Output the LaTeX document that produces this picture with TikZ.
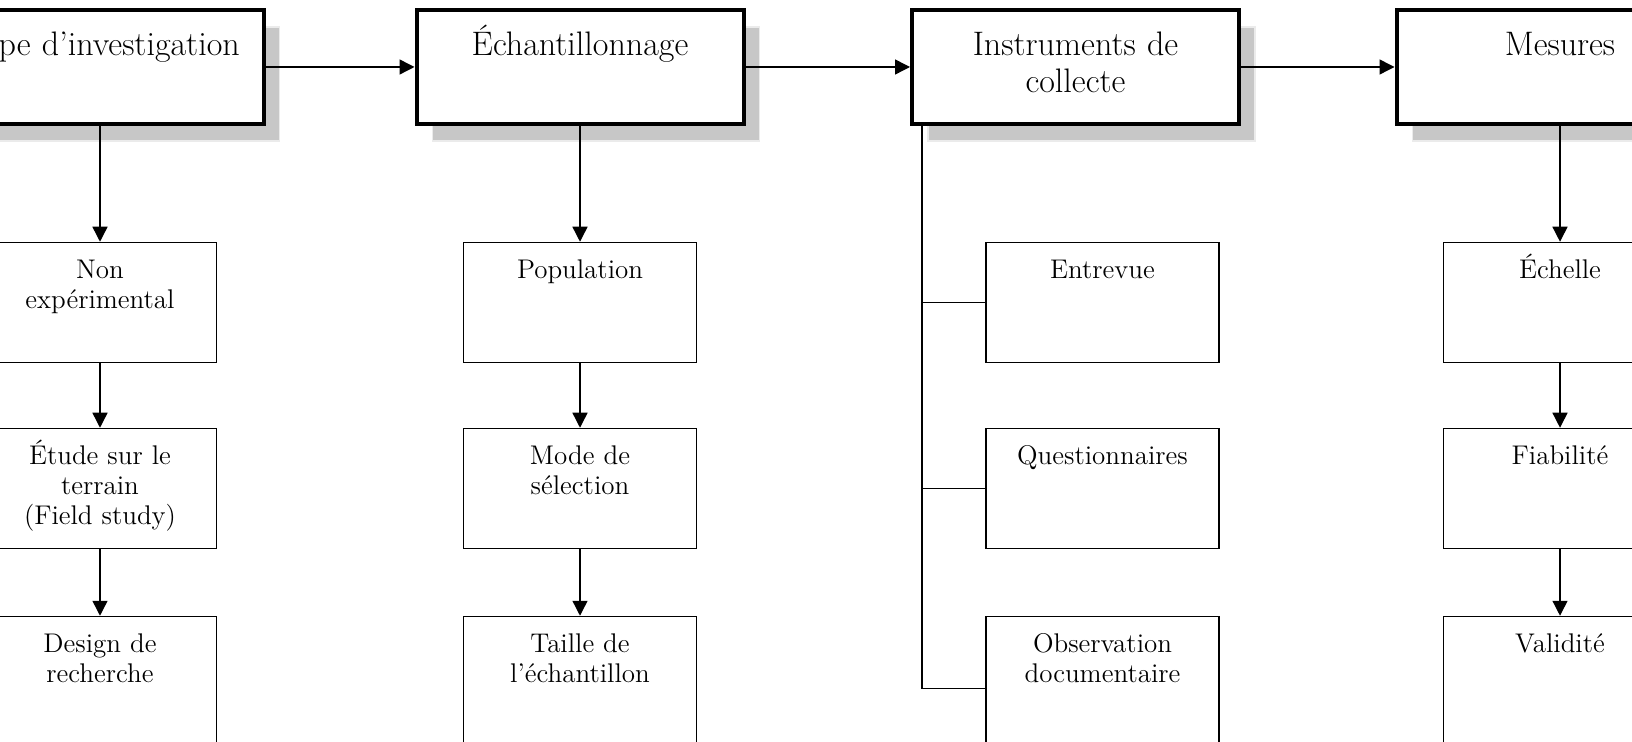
\documentclass[tikz,border=0pt]{standalone}
\usepackage{fontspec}
\usetikzlibrary{arrows.meta,shadows}

\tikzset{
  topbox/.style={draw,line width=2pt,fill=white,inner sep=0pt,
    minimum width=163.5pt,text width=160pt,align=center,
    font=\fontsize{17}{18.5}\selectfont,text height=23pt,text depth=34pt,
    general shadow={fill=black!22,draw=black!8,line width=0.6pt,
      shadow xshift=8pt,shadow yshift=-8.5pt}},
  subbox/.style={draw,line width=0.75pt,fill=white,inner sep=0pt,
    minimum width=116.5pt,text width=114pt,align=center,
    font=\fontsize{13.5}{15}\selectfont,text height=18pt,text depth=42pt},
  lastbox/.style={subbox,text depth=50pt},
  link/.style={line width=0.7pt},
  arr/.style={link,-{Triangle[length=7.5pt,width=7.5pt]}}
}

\begin{document}
\begin{tikzpicture}[x=0.5pt,y=-0.5pt]
  \useasboundingbox (0,0) rectangle (1632,742);

  %main steps
  \node[topbox] (t1) at (100,67) {Type d’investigation};
  \node[topbox] (t2) at (580,67) {Échantillonnage};
  \node[topbox] (t3) at (1075.5,67) {Instruments de\\collecte};
  \node[topbox] (t4) at (1560,67) {Mesures};

  %investigation
  \node[subbox] (a1) at (100,302.5) {Non\\expérimental};
  \node[subbox] (a2) at (100,488.5) {Étude sur le\\terrain\\(Field study)};
  \node[lastbox] (a3) at (100,684.5) {Design de\\recherche};

  %sampling
  \node[subbox] (b1) at (580,302.5) {Population};
  \node[subbox] (b2) at (580,488.5) {Mode de\\sélection};
  \node[lastbox] (b3) at (580,684.5) {Taille de\\l’échantillon};

  %instruments
  \node[subbox] (c1) at (1102.5,302.5) {Entrevue};
  \node[subbox] (c2) at (1102.5,488.5) {Questionnaires};
  \node[lastbox] (c3) at (1102.5,684.5) {Observation\\documentaire};

  %measures
  \node[subbox] (d1) at (1560,302.5) {Échelle};
  \node[subbox] (d2) at (1560,488.5) {Fiabilité};
  \node[lastbox] (d3) at (1560,684.5) {Validité};

  %arrows between steps
  \draw[arr] (t1.east) -- (t2.west);
  \draw[arr] (t2.east) -- (t3.west);
  \draw[arr] (t3.east) -- (t4.west);

  %arrows down
  \draw[arr] (t1.south) -- (a1.north);
  \draw[arr] (a1.south) -- (a2.north);
  \draw[arr] (a2.south) -- (a3.north);
  \draw[arr] (t2.south) -- (b1.north);
  \draw[arr] (b1.south) -- (b2.north);
  \draw[arr] (b2.south) -- (b3.north);
  \draw[arr] (t4.south) -- (d1.north);
  \draw[arr] (d1.south) -- (d2.north);
  \draw[arr] (d2.south) -- (d3.north);

  %bracket
  \coordinate (c0) at ([xshift=6pt]t3.south west);
  \draw[link] (c0) |- ([yshift=-2pt]c3.west);
  \draw[link] (c1.west) -- (c1.west -| c0);
  \draw[link] (c2.west) -- (c2.west -| c0);
\end{tikzpicture}
\end{document}
